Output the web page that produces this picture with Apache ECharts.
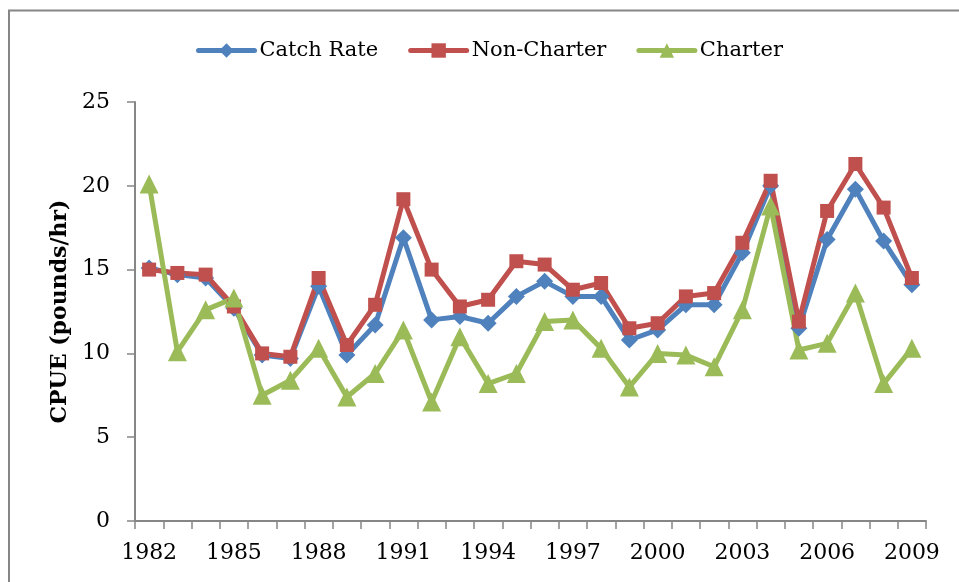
<!DOCTYPE html>
<html>
<head>
<meta charset="utf-8">
<title>CPUE</title>
<script src="https://cdn.jsdelivr.net/npm/echarts@6/dist/echarts.min.js"></script>
<style>
  html, body { margin: 0; padding: 0; background: #ffffff; }
  #chart { width: 959px; height: 582px; }
</style>
</head>
<body>
<div id="chart"></div>
<script>
// Survey years
const years = ['1982','1983','1984','1985','1986','1987','1988','1989','1990','1991',
  '1992','1993','1994','1995','1996','1997','1998','1999','2000','2001',
  '2002','2003','2004','2005','2006','2007','2008','2009'];

// Catch per unit effort, pounds per hour
const catchRate = [15.1, 14.7, 14.5, 12.7, 9.9, 9.7, 14.0, 9.9, 11.7, 16.9,
  12.0, 12.2, 11.8, 13.4, 14.3, 13.4, 13.4, 10.8, 11.4, 12.9,
  12.9, 16.0, 20.0, 11.5, 16.8, 19.8, 16.7, 14.1];
const nonCharter = [15.0, 14.8, 14.7, 12.8, 10.0, 9.8, 14.5, 10.5, 12.9, 19.2,
  15.0, 12.8, 13.2, 15.5, 15.3, 13.8, 14.2, 11.5, 11.8, 13.4,
  13.6, 16.6, 20.3, 11.9, 18.5, 21.3, 18.7, 14.5];
const charter = [20.1, 10.1, 12.6, 13.3, 7.5, 8.4, 10.3, 7.4, 8.8, 11.4,
  7.1, 11.0, 8.2, 8.8, 11.9, 12.0, 10.3, 8.0, 10.0, 9.9,
  9.2, 12.6, 18.8, 10.2, 10.6, 13.6, 8.2, 10.3];

const yTicks = { min: 0, max: 25, step: 5 };

const FONT = 'DejaVu Serif';
const AXIS_GRAY = '#868686';

const chart = echarts.init(document.getElementById('chart'), null, { renderer: 'canvas' });

function lineSeries(name, data, color, symbol, size) {
  return {
    name: name,
    type: 'line',
    data: data,
    symbol: symbol,
    symbolSize: size,
    showAllSymbol: true,
    lineStyle: { color: color, width: 5 },
    itemStyle: { color: color, borderWidth: 0 },
    emphasis: { disabled: true },
    animation: false
  };
}

chart.setOption({
  backgroundColor: '#ffffff',
  animation: false,
  graphic: [{
    type: 'rect',
    shape: { x: 9, y: 10.5, width: 1200, height: 1000 },
    style: { fill: 'none', stroke: AXIS_GRAY, lineWidth: 2 },
    silent: true
  }],
  legend: {
    top: 35,
    left: 191,
    itemGap: 30,
    itemWidth: 56,
    itemHeight: 18,
    lineStyle: { width: 5, cap: 'round' },
    textStyle: { fontFamily: FONT, fontSize: 21, color: '#000000' },
    data: ['Catch Rate', 'Non-Charter', 'Charter']
  },
  grid: { left: 135, right: 33, top: 102, bottom: 61, containLabel: false },
  xAxis: {
    type: 'category',
    data: years,
    boundaryGap: true,
    axisLine: { lineStyle: { color: AXIS_GRAY, width: 2 } },
    axisTick: { show: true, interval: 0, length: 8, lineStyle: { color: AXIS_GRAY, width: 1.5 } },
    axisLabel: { interval: 2, margin: 21, fontFamily: FONT, fontSize: 22, color: '#000000' },
    splitLine: { show: false }
  },
  yAxis: {
    type: 'value',
    min: yTicks.min,
    max: yTicks.max,
    interval: yTicks.step,
    name: 'CPUE (pounds/hr)',
    nameLocation: 'middle',
    nameGap: 64,
    nameTextStyle: { fontFamily: FONT, fontSize: 22, fontWeight: 'bold', color: '#000000' },
    axisLine: { show: true, lineStyle: { color: AXIS_GRAY, width: 2 } },
    axisTick: { show: true, length: 8, lineStyle: { color: AXIS_GRAY, width: 1.5 } },
    axisLabel: { margin: 25, fontFamily: FONT, fontSize: 22, color: '#000000' },
    splitLine: { show: false }
  },
  series: [
    lineSeries('Catch Rate', catchRate, '#4F81BD', 'diamond', 17),
    lineSeries('Non-Charter', nonCharter, '#C0504D', 'rect', 14),
    lineSeries('Charter', charter, '#9BBB59', 'triangle', 19)
  ]
});
</script>
</body>
</html>
